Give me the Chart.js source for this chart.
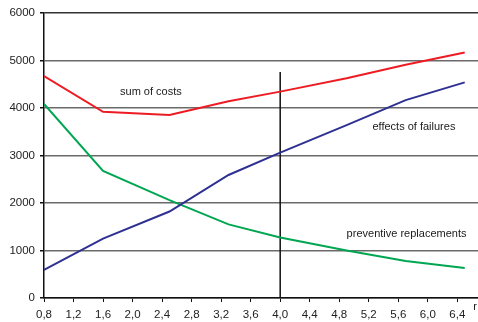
<!DOCTYPE html>
<html>
<head>
<meta charset="utf-8">
<script src="https://cdn.jsdelivr.net/npm/chart.js@4/dist/chart.umd.min.js"></script>
<style>
html,body{margin:0;padding:0;background:#fff;}
#wrap{width:478px;height:322px;}
</style>
</head>
<body>
<div id="wrap"><canvas id="c" width="478" height="322"></canvas></div>
<script>
// ---- data ----
const rValues = [0.8, 1.6, 2.5, 3.3, 4.0, 4.9, 5.7, 6.5];
const sumOfCosts = [4670, 3920, 3855, 4140, 4345, 4625, 4910, 5170];
const effectsOfFailures = [590, 1250, 1820, 2590, 3060, 3640, 4165, 4540];
const preventiveReplacements = [4085, 2675, 2060, 1550, 1275, 1000, 780, 630];
const markerR = [4.0, 4.0];
const markerY = [0, 4760];
const xTickValues = [0.8, 1.2, 1.6, 2.0, 2.4, 2.8, 3.2, 3.6, 4.0, 4.4, 4.8, 5.2, 5.6, 6.0, 6.4];
const xTickLabels = ["0,8","1,2","1,6","2,0","2,4","2,8","3,2","3,6","4,0","4,4","4,8","5,2","5,6","6,0","6,4"];
const yTickValues = [0, 1000, 2000, 3000, 4000, 5000, 6000];
const annotations = [
  {text: "sum of costs", r: 1.83, v: 4340},
  {text: "effects of failures", r: 5.25, v: 3610},
  {text: "preventive replacements", r: 4.9, v: 1350}
];
const axisLabel = "r";

const pts = (xs, ys) => xs.map((x, i) => ({x: x, y: ys[i]}));
const FONT = "'Liberation Sans', Arial, sans-serif";

const textPlugin = {
  id: 'texts',
  afterDatasetsDraw(chart) {
    const ctx = chart.ctx, xs = chart.scales.x, ys = chart.scales.y;
    ctx.save();
    ctx.font = "11px " + FONT;
    ctx.fillStyle = "#1a1a1a";
    ctx.textBaseline = "middle";
    ctx.textAlign = "left";
    annotations.forEach(a => {
      ctx.fillText(a.text, xs.getPixelForValue(a.r), ys.getPixelForValue(a.v));
    });
    ctx.textAlign = "right";
    ctx.fillText(axisLabel, chart.chartArea.right - 1, chart.chartArea.bottom + 9);
    ctx.restore();
  }
};

new Chart(document.getElementById('c'), {
  type: 'line',
  data: {
    datasets: [
      {label: 'sum of costs', data: pts(rValues, sumOfCosts), borderColor: '#ed1c24', borderWidth: 2, pointRadius: 0, tension: 0},
      {label: 'effects of failures', data: pts(rValues, effectsOfFailures), borderColor: '#2e3192', borderWidth: 2, pointRadius: 0, tension: 0},
      {label: 'preventive replacements', data: pts(rValues, preventiveReplacements), borderColor: '#00a651', borderWidth: 2, pointRadius: 0, tension: 0},
      {label: 'marker', data: pts(markerR, markerY), borderColor: '#111', borderWidth: 1.5, pointRadius: 0}
    ]
  },
  options: {
    responsive: false,
    animation: false,
    layout: {padding: {top: 13, left: 0, right: 0, bottom: 0}},
    plugins: {legend: {display: false}, tooltip: {enabled: false}},
    scales: {
      x: {
        type: 'linear',
        min: 0.8,
        max: 6.68,
        afterFit(s) { s.height = 24; },
        afterBuildTicks(s) { s.ticks = xTickValues.map(v => ({value: v})); },
        border: {color: '#111', width: 1.5},
        grid: {drawOnChartArea: false, drawTicks: true, tickLength: 4, tickColor: '#111', tickWidth: 1},
        ticks: {
          padding: 6,
          maxRotation: 0,
          autoSkip: false,
          color: '#222',
          font: {family: FONT, size: 11.5},
          callback(v) { const i = xTickValues.findIndex(t => Math.abs(t - v) < 1e-6); return i >= 0 ? xTickLabels[i] : ''; }
        }
      },
      y: {
        type: 'linear',
        min: 0,
        max: 6000,
        afterFit(s) { s.width = 44; },
        afterBuildTicks(s) { s.ticks = yTickValues.map(v => ({value: v})); },
        border: {color: '#111', width: 1.5},
        grid: {
          drawTicks: true, tickLength: 4, tickColor: '#111',
          color: c => (c.tick && c.tick.value === 6000) ? '#333' : '#6a6a6a',
          lineWidth: 1.5
        },
        ticks: {
          padding: 5,
          color: '#222',
          font: {family: FONT, size: 11.5},
          callback(v) { return String(v); }
        }
      }
    }
  },
  plugins: [textPlugin]
});
</script>
</body>
</html>
